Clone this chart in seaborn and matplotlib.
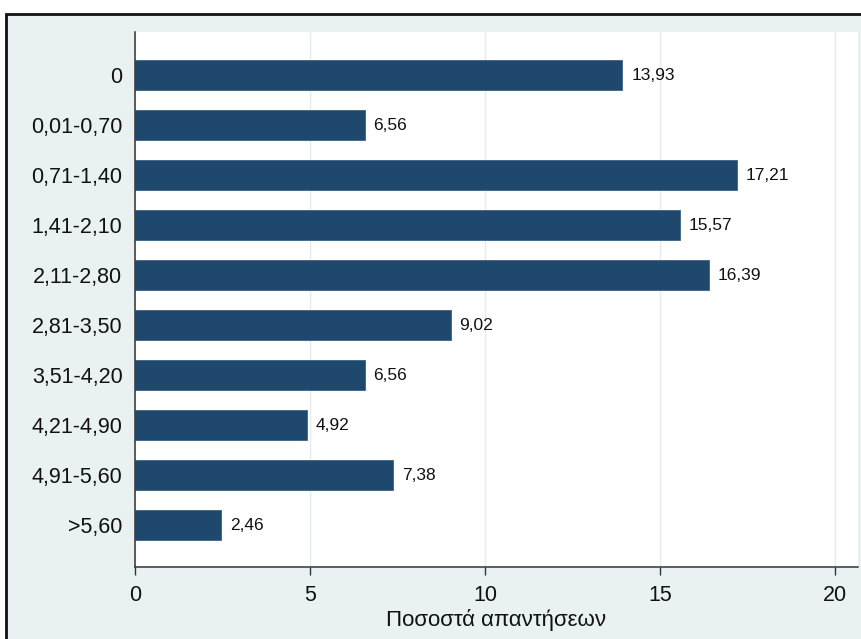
import matplotlib
matplotlib.use("Agg")
import matplotlib.pyplot as plt
import seaborn as sns
import pandas as pd
from matplotlib.patches import Rectangle

categories = ["0", "0,01-0,70", "0,71-1,40", "1,41-2,10", "2,11-2,80",
              "2,81-3,50", "3,51-4,20", "4,21-4,90", "4,91-5,60", ">5,60"]
values = [13.93, 6.56, 17.21, 15.57, 16.39, 9.02, 6.56, 4.92, 7.38, 2.46]
xticks = [0, 5, 10, 15, 20]
xlabel = "Ποσοστά απαντήσεων"

sns.set_theme(style="white")
plt.rcParams['font.family'] = ['Liberation Sans', 'DejaVu Sans']

df = pd.DataFrame({"cat": categories, "val": values})

fig = plt.figure(figsize=(8.62, 6.39), dpi=100)
fig.patch.set_facecolor("white")
W, H = 862, 639
bg = "#EAF1F3"
# framed background
fig.patches.append(Rectangle((6 / W, -0.05), 1.1, 1 - 14 / H + 0.05,
                             transform=fig.transFigure, facecolor=bg,
                             edgecolor="#111111", linewidth=2, zorder=-10))

ax = fig.add_axes([135 / W, 1 - 567 / H, (858 - 135) / W, (567 - 32) / H])
ax.set_zorder(1)
ax.set_facecolor("white")
bar_color = "#1E486E"
sns.barplot(data=df, y="cat", x="val", orient="h", color=bar_color,
            width=0.6, saturation=1, ax=ax, edgecolor="#3d6283", linewidth=0.6)

ax.set_xlim(0, 20.66)
ax.set_ylim(9.84, -0.86)
ax.set_xticks(xticks)
ax.set_xticklabels([str(t) for t in xticks], fontsize=15.5)
ax.tick_params(axis="x", direction="out", length=6, width=1, color="#333333",
               pad=7, labelcolor="#111111", bottom=True)
ax.tick_params(axis="y", length=0, pad=9, labelsize=15.5, labelcolor="#111111")
ax.set_ylabel("")
ax.set_xlabel(xlabel, fontsize=16, color="#111111", labelpad=2)
ax.grid(axis="x", color="#E3EBF0", linewidth=1)
ax.set_axisbelow(True)
for s in ["top", "right"]:
    ax.spines[s].set_visible(False)
for s in ["left", "bottom"]:
    ax.spines[s].set_color("#333333")
    ax.spines[s].set_linewidth(1.1)

for i, v in enumerate(values):
    ax.text(v + 0.25, i, f"{v:.2f}".replace(".", ","), va="center", ha="left",
            fontsize=12.5, color="#111111")

fig.savefig("out.png", dpi=100, facecolor=fig.get_facecolor())
